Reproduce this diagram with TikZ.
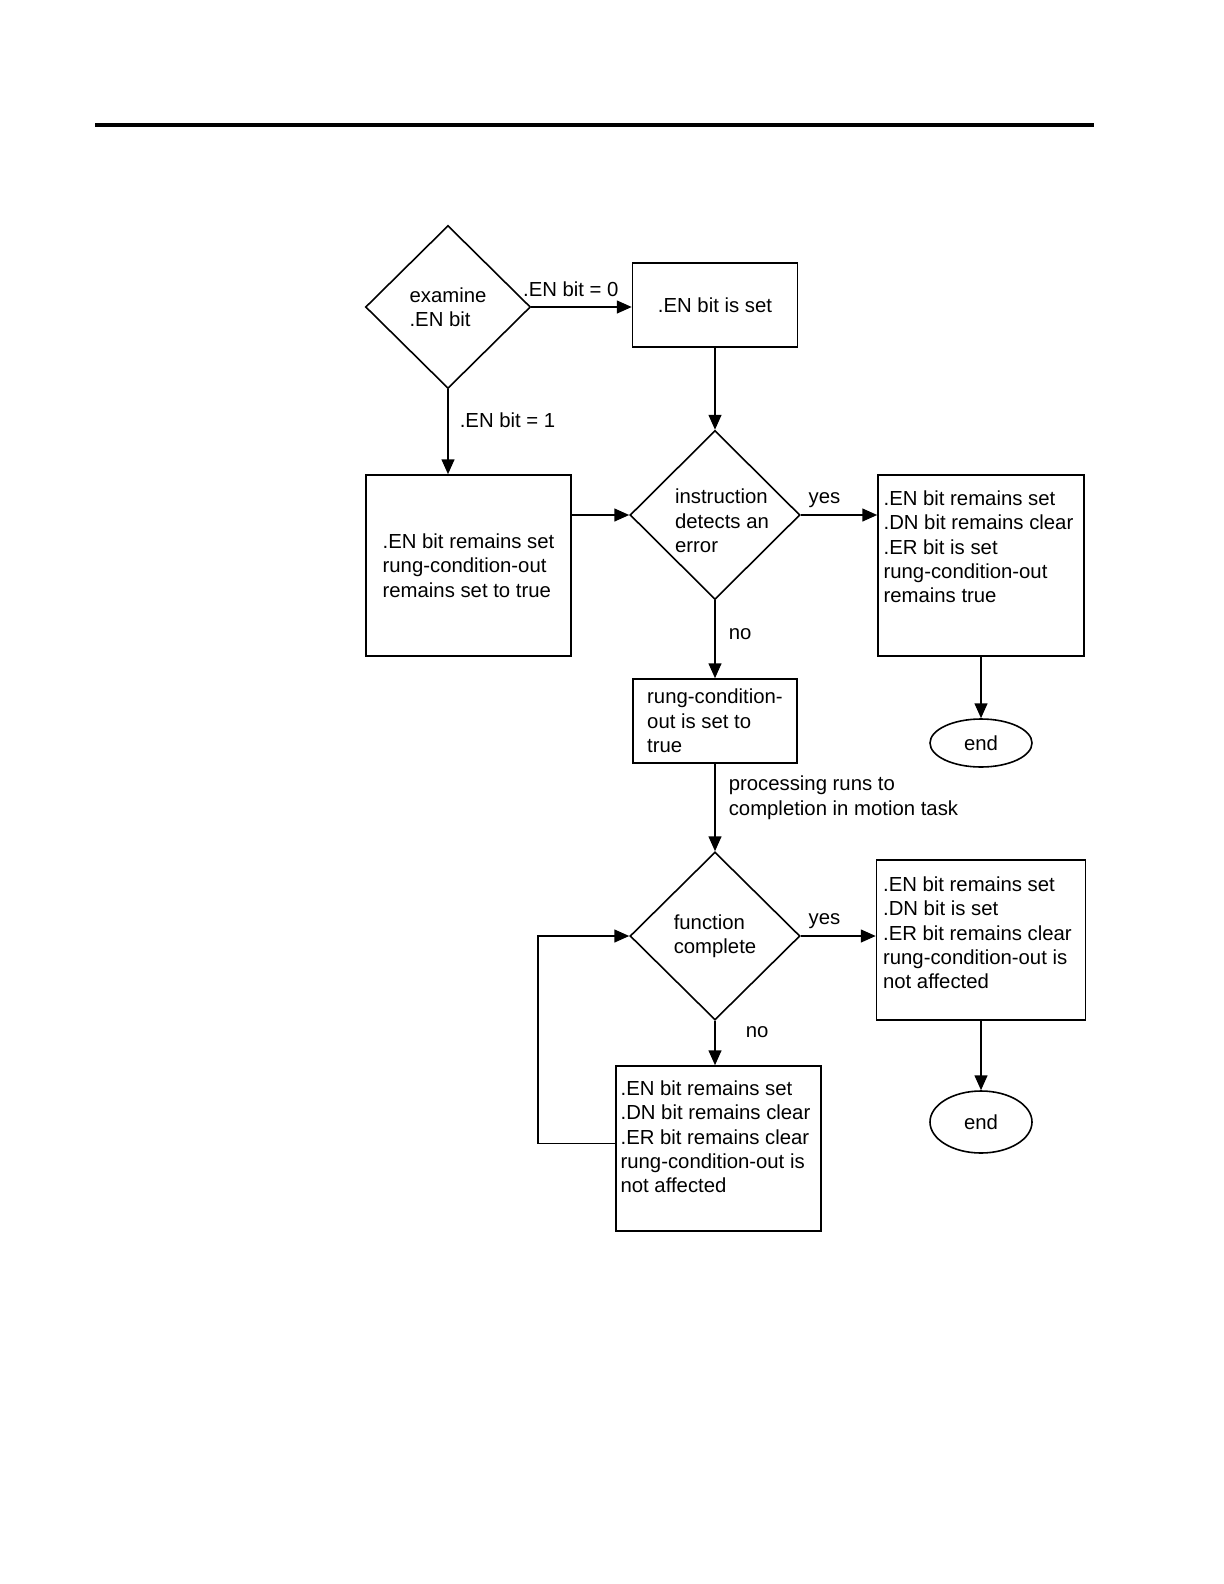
\documentclass[tikz,border=0pt]{standalone}
\usepackage{fontspec}
\setmainfont{Liberation Sans}
\usetikzlibrary{arrows.meta,shapes.geometric,calc}

\begin{document}
\begin{tikzpicture}[x=0.5bp,y=-0.5bp,
  txt/.style={font=\fontsize{10.2pt}{12.25pt}\selectfont, align=left, inner sep=0pt},
  decision/.style={draw, diamond, txt, line width=0.8pt, minimum width=85bp, minimum height=84.5bp},
  block/.style={draw, rectangle, txt, line width=0.8pt},
  term/.style={draw, ellipse, txt, line width=0.8pt, minimum width=51bp},
  arr/.style={-{Triangle[length=7.5pt,width=6.5pt]}, line width=0.8pt}]
\useasboundingbox (0,0) rectangle (1224,1584);

%Top rule
\draw[line width=2pt] (95,125) -- (1094,125);

%Decisions
\node[decision, minimum width=82.5bp, minimum height=81.5bp] (exam) at (448,307) {examine\\.EN bit};
\node[decision] (err) at (715,515) {};
\node[txt] (errtxt) at ($(err)+(7,6)$) {instruction\\detects an\\error};
\node[decision, minimum height=84bp] (func) at (715,936) {function\\complete};

%Boxes
\node[block, minimum width=82.5bp, minimum height=42bp] (enset) at (715,305) {.EN bit is set};
\node[block, minimum width=102.5bp, minimum height=90.5bp] (keep) at (468.5,565.5)
 {.EN bit remains set\\rung-condition-out\\remains set to true};
\node[block, minimum width=103bp, minimum height=90.5bp] (errbox) at (981,565.5) {};
\node[txt, anchor=north west] (errboxtxt) at ($(errbox.north west)+(6,16)$)
 {.EN bit remains set\\.DN bit remains clear\\.ER bit is set\\rung-condition-out\\remains true};
\node[block, minimum width=82bp, minimum height=42bp] (rco) at (715,721)
 {rung-condition-\\out is set to\\true};
\node[block, minimum width=104.5bp, minimum height=80bp] (donebox) at (981,940) {};
\node[txt, anchor=north west] (donetxt) at ($(donebox.north west)+(7,17)$)
 {.EN bit remains set\\.DN bit is set\\.ER bit remains clear\\rung-condition-out is\\not affected};
\node[block, minimum width=102.5bp, minimum height=82.5bp] (wait) at (718.5,1148.5) {};
\node[txt, anchor=north west] (waittxt) at ($(wait.north west)+(5,15)$)
 {.EN bit remains set\\.DN bit remains clear\\.ER bit remains clear\\rung-condition-out is\\not affected};

%Ends
\node[term, minimum height=24bp] (end1) at (981,743) {end};
\node[term, minimum height=31bp] (end2) at (981,1122) {end};

%Arrows
\draw[arr] (exam.east) -- (exam.east -| enset.west)
 node[txt, pos=0, anchor=south west, xshift=-4.5bp, yshift=5bp] (lbl0) {.EN bit = 0};
\draw[arr] (enset.south) -- (enset.south |- err.north);
\draw[arr] (exam.south) -- (exam.south |- keep.north)
 node[txt, pos=0.36, anchor=west, xshift=5.5bp] (lbl1) {.EN bit = 1};
\draw[arr] (keep.east |- err.west) -- (err.west);
\draw[arr] (err.east) -- (err.east -| errbox.west)
 node[txt, pos=0, anchor=south west, xshift=3.5bp, yshift=3bp] (yes1) {yes};
\draw[arr] (errbox.south) -- (errbox.south |- end1.north);
\draw[arr] (err.south) -- (err.south |- rco.north)
 node[txt, pos=0.44, anchor=west, xshift=6.5bp] (no1) {no};
\draw[arr] (rco.south) -- (rco.south |- func.north)
 node[txt, pos=0.39, anchor=west, xshift=6.5bp] (proc) {processing runs to\\completion in motion task};
\draw[arr] (func.east) -- (func.east -| donebox.west)
 node[txt, pos=0, anchor=south west, xshift=3.5bp, yshift=3bp] (yes2) {yes};
\draw[arr] (donebox.south) -- (donebox.south |- end2.north);
\draw[arr] (func.south) -- (func.south |- wait.north)
 node[txt, pos=0.26, anchor=west, xshift=15bp] (no2) {no};
\draw[arr] ($(wait.west)+(0,-5)$) -- ++(-77,0) |- (func.west);

\end{tikzpicture}
\end{document}
